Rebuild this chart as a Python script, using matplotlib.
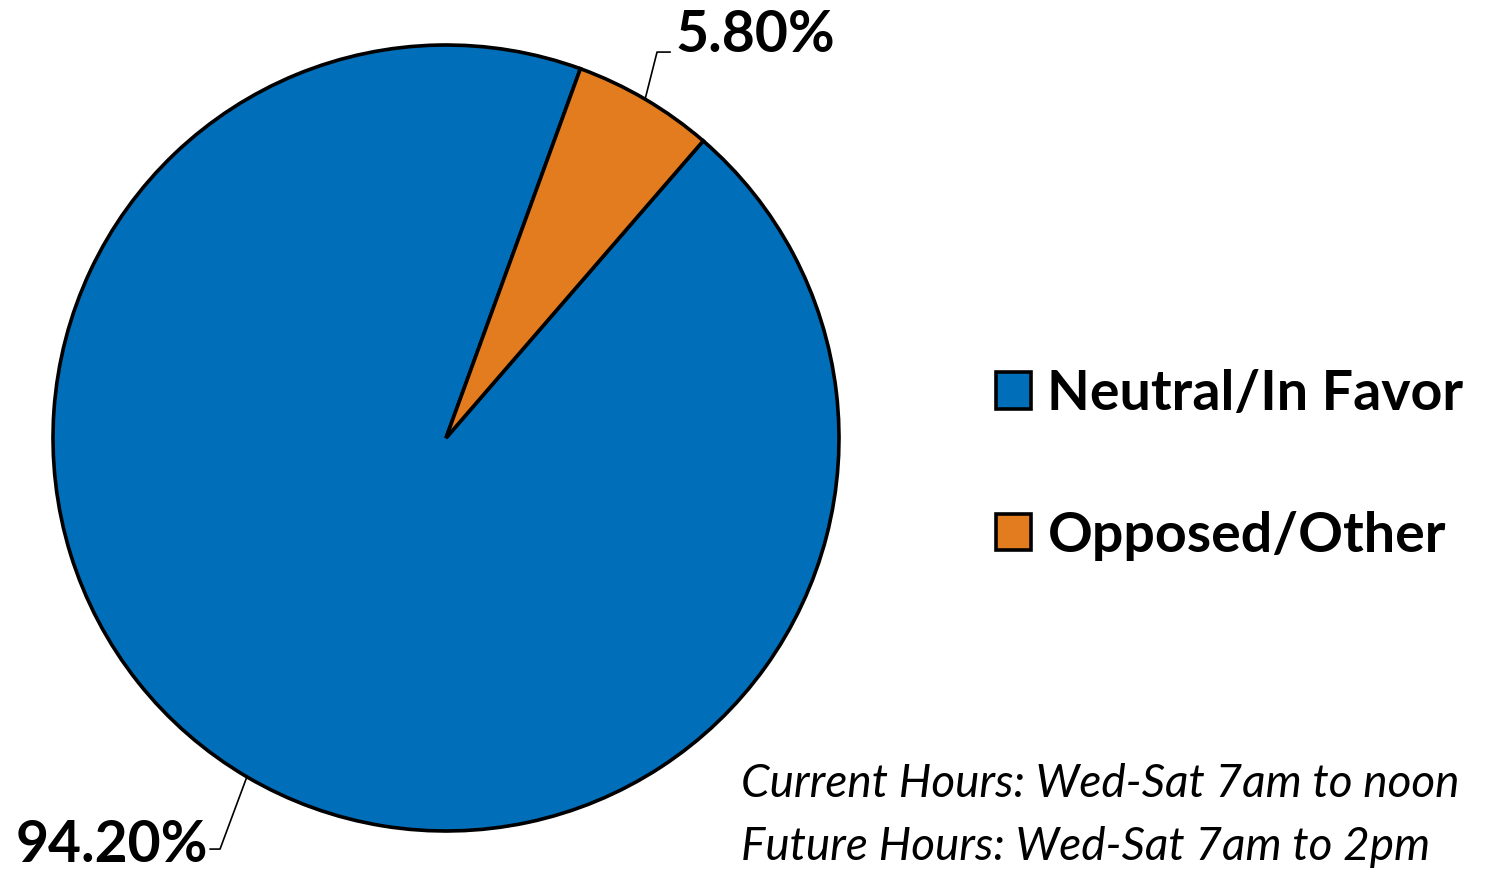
import numpy as np
import matplotlib
matplotlib.use("Agg")
import matplotlib.pyplot as plt

labels = ["Neutral/In Favor", "Opposed/Other"]
values = [94.2, 5.8]
colors = ["#006EB8", "#E27C1E"]
pct_text = ["94.20%", "5.80%"]
notes = ["Current Hours: Wed-Sat 7am to noon", "Future Hours: Wed-Sat 7am to 2pm"]

W, H = 1499, 869
fig = plt.figure(figsize=(W / 100, H / 100), dpi=100)
cx, cy, r = 446, 438, 393
ax = fig.add_axes([(cx - r) / W, (H - cy - r) / H, 2 * r / W, 2 * r / H])

wedges, _ = ax.pie(values, colors=colors, startangle=70, counterclock=True,
                   radius=1, wedgeprops=dict(edgecolor="black", linewidth=2.6))
ax.set_xlim(-1, 1)
ax.set_ylim(-1, 1)
ax.set_aspect("equal")
ax.axis("off")

font = "Lato"
label_cfg = [
    dict(elbow=(-0.575, -1.046), end=(-0.600, -1.046), text=(-0.605, -1.036), ha="right"),
    dict(elbow=(0.537, 0.982), end=(0.570, 0.982), text=(0.583, 1.025), ha="left"),
]
for w, t, cfg in zip(wedges, pct_text, label_cfg):
    mid = np.deg2rad((w.theta1 + w.theta2) / 2)
    p0 = (np.cos(mid), np.sin(mid))
    xs = [p0[0], cfg["elbow"][0], cfg["end"][0]]
    ys = [p0[1], cfg["elbow"][1], cfg["end"][1]]
    ax.plot(xs, ys, color="black", lw=1.2, clip_on=False)
    ax.text(cfg["text"][0], cfg["text"][1], t, ha=cfg["ha"], va="center",
            fontsize=41, fontweight="bold", family=font, clip_on=False)

leg = fig.legend(wedges, labels, loc="center left", bbox_to_anchor=(968 / W, 1 - 465 / H),
                 frameon=False, prop=dict(family=font, weight="bold", size=40),
                 handlelength=0.63, handleheight=0.63, handletextpad=0.3,
                 labelspacing=1.65, borderpad=0)

fig.text(741 / W, 1 - 797 / H, notes[0], fontsize=33, style="italic", family=font,
         ha="left", va="baseline")
fig.text(741 / W, 1 - 860 / H, notes[1], fontsize=33, style="italic", family=font,
         ha="left", va="baseline")

fig.savefig("out.png", dpi=100)
